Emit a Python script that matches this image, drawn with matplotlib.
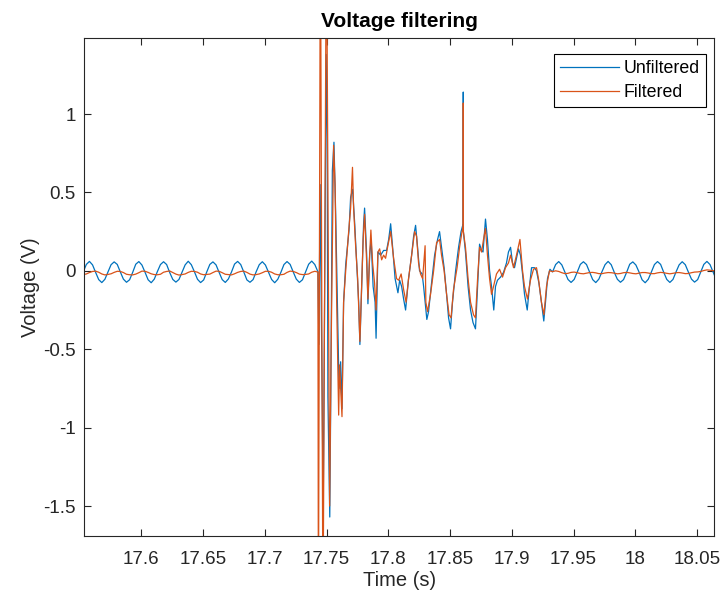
import numpy as np
import matplotlib
matplotlib.use("Agg")
import matplotlib.pyplot as plt

# --- data ------------------------------------------------------------------
# steady 50 Hz sections are sampled every 2.5 ms
pre_start, post_start, grid_step = 17.553, 17.933, 0.0025

unf_pre = [
    -0.006, 0.041, 0.060, 0.038, -0.010, -0.056, -0.075, -0.054,
    -0.008, 0.039, 0.057, 0.041, -0.007, -0.053, -0.073, -0.057,
    -0.010, 0.042, 0.059, 0.037, -0.009, -0.057, -0.076, -0.053,
    -0.005, 0.040, 0.058, 0.040, -0.011, -0.055, -0.072, -0.055,
    -0.009, 0.038, 0.061, 0.039, -0.006, -0.054, -0.075, -0.058,
    -0.007, 0.041, 0.057, 0.038, -0.010, -0.056, -0.074, -0.052,
    -0.008, 0.043, 0.060, 0.040, -0.008, -0.058, -0.073, -0.056,
    -0.006, 0.039, 0.058, 0.037, -0.009, -0.055, -0.076, -0.054,
    -0.010, 0.040, 0.059, 0.041, -0.007, -0.053, -0.074, -0.057,
    -0.008, 0.042, 0.062, 0.040, -0.006,
]
filt_pre = [
    -0.024, -0.020, -0.011, -0.004, -0.002, -0.009, -0.020, -0.026,
    -0.023, -0.019, -0.010, -0.003, -0.004, -0.011, -0.022, -0.025,
    -0.026, -0.021, -0.012, -0.002, -0.003, -0.010, -0.019, -0.024,
    -0.025, -0.022, -0.009, -0.004, -0.001, -0.011, -0.021, -0.027,
    -0.024, -0.020, -0.010, -0.003, -0.004, -0.009, -0.020, -0.025,
    -0.023, -0.021, -0.011, -0.002, -0.003, -0.012, -0.022, -0.024,
    -0.026, -0.019, -0.010, -0.004, -0.002, -0.010, -0.021, -0.026,
    -0.024, -0.020, -0.012, -0.003, -0.003, -0.009, -0.020, -0.025,
    -0.025, -0.022, -0.010, -0.002, -0.004, -0.011, -0.021, -0.024,
    -0.023, -0.020, -0.009, -0.003, -0.008,
]
unf_post = [
    -0.007, 0.040, 0.059, 0.038, -0.009, -0.055, -0.074, -0.055,
    -0.008, 0.041, 0.058, 0.040, -0.008, -0.056, -0.075, -0.053,
    -0.006, 0.039, 0.060, 0.039, -0.010, -0.054, -0.073, -0.056,
    -0.009, 0.042, 0.057, 0.037, -0.007, -0.057, -0.076, -0.054,
    -0.008, 0.040, 0.059, 0.041, -0.009, -0.055, -0.074, -0.055,
    -0.007, 0.038, 0.058, 0.039, -0.008, -0.053, -0.072, -0.056,
    -0.008, 0.041, 0.060, 0.040, -0.008, -0.055,
]
filt_post = [
    -0.005, 0.000, -0.004, -0.012, -0.018, -0.016, -0.010, -0.008,
    -0.012, -0.017, -0.019, -0.015, -0.011, -0.010, -0.013, -0.018,
    -0.018, -0.014, -0.011, -0.012, -0.015, -0.019, -0.017, -0.012,
    -0.010, -0.013, -0.017, -0.019, -0.015, -0.011, -0.011, -0.014,
    -0.018, -0.018, -0.013, -0.010, -0.012, -0.016, -0.019, -0.016,
    -0.012, -0.011, -0.014, -0.018, -0.017, -0.012, -0.008, -0.007,
    -0.004, 0.002, 0.006, 0.004, 0.001, 0.000,
]

# fault burst, turning points only
unf_burst_t = [
    17.7438, 17.7448, 17.7473, 17.7497, 17.7505, 17.7511, 17.7526, 17.7534,
    17.7547, 17.7560, 17.7574, 17.7590, 17.7601, 17.7614, 17.7625, 17.7638,
    17.7655, 17.7682, 17.7695, 17.7711, 17.7728, 17.7744, 17.7760, 17.7770,
    17.7784, 17.7800, 17.7808, 17.7825, 17.7835, 17.7849, 17.7861, 17.7877,
    17.7893, 17.7901, 17.7916, 17.7938, 17.7962, 17.7986, 17.8003, 17.8019,
    17.8035, 17.8055, 17.8078, 17.8092, 17.8108, 17.8124, 17.8140, 17.8164,
    17.8189, 17.8205, 17.8221, 17.8237, 17.8253, 17.8274, 17.8286, 17.8298,
    17.8312, 17.8326, 17.8350, 17.8375, 17.8399, 17.8415, 17.8431, 17.8452,
    17.8472, 17.8488, 17.8504, 17.8520, 17.8545, 17.8569, 17.8589, 17.8606,
    17.8607, 17.8608, 17.8625, 17.8646, 17.8666, 17.8686, 17.8706, 17.8723,
    17.8739, 17.8755, 17.8767, 17.8787, 17.8803, 17.8820, 17.8836, 17.8854,
    17.8868, 17.8884, 17.8909, 17.8933, 17.8957, 17.8973, 17.8990, 17.9006,
    17.9022, 17.9038, 17.9054, 17.9070, 17.9087, 17.9103, 17.9125, 17.9143,
    17.9160, 17.9184, 17.9200, 17.9220, 17.9240, 17.9259, 17.9273, 17.9289,
    17.9309,
]
unf_burst_v = [
    -0.47, 0.55, -1.53, 1.38, 0.85, -0.80, -1.57, -0.81,
    0.64, 0.82, 0.36, -0.30, -0.75, -0.58, -0.88, -0.20,
    0.04, 0.26, 0.47, 0.52, 0.30, 0.05, -0.20, -0.47,
    -0.10, 0.30, 0.40, 0.10, -0.21, 0.10, 0.20, -0.10,
    -0.20, -0.43, 0.12, 0.10, 0.13, 0.13, 0.20, 0.30,
    0.15, -0.05, -0.14, -0.06, -0.10, -0.18, -0.25, -0.05,
    0.10, 0.22, 0.29, 0.15, 0.00, -0.02, -0.10, -0.20,
    -0.31, -0.26, -0.08, 0.10, 0.20, 0.25, 0.15, 0.02,
    -0.15, -0.30, -0.37, -0.20, 0.00, 0.15, 0.25, 0.30,
    1.14, 0.25, 0.12, -0.10, -0.25, -0.33, -0.37, -0.10,
    0.17, 0.13, 0.12, 0.33, 0.20, 0.00, -0.10, -0.25,
    -0.10, -0.06, -0.04, -0.01, 0.05, 0.12, 0.15, 0.05,
    0.02, 0.08, 0.14, 0.10, -0.02, -0.15, -0.25, -0.10,
    0.02, 0.02, 0.00, -0.08, -0.20, -0.32, -0.20, -0.05,
    0.01,
]
filt_burst_t = [
    17.7434, 17.7450, 17.7471, 17.7499, 17.7525, 17.7537, 17.7557, 17.7569,
    17.7582, 17.7598, 17.7606, 17.7614, 17.7625, 17.7638, 17.7655, 17.7679,
    17.7695, 17.7710, 17.7719, 17.7736, 17.7752, 17.7770, 17.7780, 17.7796,
    17.7808, 17.7825, 17.7835, 17.7849, 17.7859, 17.7873, 17.7889, 17.7901,
    17.7916, 17.7930, 17.7946, 17.7962, 17.7978, 17.7994, 17.8019, 17.8043,
    17.8067, 17.8084, 17.8104, 17.8124, 17.8144, 17.8164, 17.8189, 17.8213,
    17.8229, 17.8245, 17.8261, 17.8278, 17.8298, 17.8304, 17.8318, 17.8342,
    17.8367, 17.8391, 17.8415, 17.8431, 17.8452, 17.8472, 17.8492, 17.8508,
    17.8528, 17.8557, 17.8577, 17.8597, 17.8606, 17.8607, 17.8608, 17.8625,
    17.8646, 17.8666, 17.8690, 17.8706, 17.8723, 17.8739, 17.8755, 17.8771,
    17.8787, 17.8803, 17.8820, 17.8836, 17.8852, 17.8876, 17.8901, 17.8925,
    17.8949, 17.8973, 17.8990, 17.9014, 17.9038, 17.9066, 17.9087, 17.9103,
    17.9127, 17.9151, 17.9176, 17.9200, 17.9216, 17.9240, 17.9260, 17.9281,
    17.9305,
]
filt_burst_v = [
    -2.30, 2.30, -2.30, 2.30, -1.50, -0.50, 0.80, 0.55,
    -0.20, -0.92, -0.60, -0.75, -0.93, -0.20, 0.00, 0.25,
    0.40, 0.66, 0.40, 0.15, -0.05, -0.45, -0.20, 0.20,
    0.36, 0.05, -0.18, 0.10, 0.26, 0.05, -0.08, -0.25,
    0.12, 0.14, 0.07, 0.10, 0.08, 0.15, 0.25, 0.08,
    -0.05, -0.06, -0.02, -0.12, -0.20, -0.05, 0.10, 0.25,
    0.22, 0.05, -0.02, -0.05, 0.16, -0.20, -0.26, -0.15,
    0.00, 0.18, 0.20, 0.10, 0.00, -0.15, -0.28, -0.30,
    -0.12, 0.02, 0.15, 0.25, 0.28, 1.07, 0.25, 0.15,
    -0.05, -0.20, -0.28, -0.30, -0.05, 0.15, 0.12, 0.20,
    0.27, 0.10, -0.05, -0.15, -0.10, -0.02, 0.01, -0.04,
    0.02, 0.05, 0.10, 0.02, 0.10, 0.20, 0.00, -0.10,
    -0.18, -0.06, 0.01, 0.02, -0.05, -0.20, -0.28, -0.10,
    0.00,
]

x_ticks = [17.6, 17.65, 17.7, 17.75, 17.8, 17.85, 17.9, 17.95, 18.0, 18.05]
x_tick_labels = ['17.6', '17.65', '17.7', '17.75', '17.8', '17.85', '17.9', '17.95', '18', '18.05']
y_ticks = [-1.5, -1.0, -0.5, 0.0, 0.5, 1.0]
y_tick_labels = ['-1.5', '-1', '-0.5', '0', '0.5', '1']


def stitch(pre, burst_t, burst_v, post):
    t_pre = pre_start + grid_step * np.arange(len(pre))
    t_post = post_start + grid_step * np.arange(len(post))
    t = np.concatenate([t_pre, burst_t, t_post])
    v = np.concatenate([pre, burst_v, post])
    return t, v


t_unf, v_unf = stitch(unf_pre, unf_burst_t, unf_burst_v, unf_post)
t_filt, v_filt = stitch(filt_pre, filt_burst_t, filt_burst_v, filt_post)

plt.rcParams['font.family'] = ['Liberation Sans', 'DejaVu Sans']
plt.rcParams['axes.unicode_minus'] = False

axis_grey = '#262626'
fig = plt.figure(figsize=(7.23, 5.98), dpi=100)
ax = fig.add_axes([0.1162, 0.1037, 0.8718, 0.8323])

ax.plot(t_unf, v_unf, color='#0072BD', linewidth=0.9, label='Unfiltered')
ax.plot(t_filt, v_filt, color='#D95319', linewidth=0.9, label='Filtered')

ax.set_xlim(17.5536, 18.064)
ax.set_ylim(-1.691, 1.483)
ax.set_xticks(x_ticks)
ax.set_xticklabels(x_tick_labels)
ax.set_yticks(y_ticks)
ax.set_yticklabels(y_tick_labels)
ax.tick_params(direction='in', top=True, right=True, length=5, width=0.8,
               labelsize=13.5, colors=axis_grey)
ax.tick_params(axis='x', pad=11)
ax.tick_params(axis='y', pad=6)
for side in ax.spines.values():
    side.set_color(axis_grey)
    side.set_linewidth(0.8)

ax.set_xlabel('Time (s)', fontsize=14.5, color=axis_grey, labelpad=2)
ax.set_ylabel('Voltage (V)', fontsize=14.5, color=axis_grey, labelpad=2)
ax.set_title('Voltage filtering', fontsize=15, fontweight='bold', color='black', pad=8)

leg = ax.legend(loc='upper right', bbox_to_anchor=(0.9865, 0.9675), borderaxespad=0,
                fontsize=12.8, handlelength=3.3, handletextpad=0.28, labelspacing=0.4,
                borderpad=0.33, fancybox=False, framealpha=1)
leg.get_frame().set_edgecolor('black')
leg.get_frame().set_linewidth(0.8)

fig.savefig('out.png', dpi=100)
